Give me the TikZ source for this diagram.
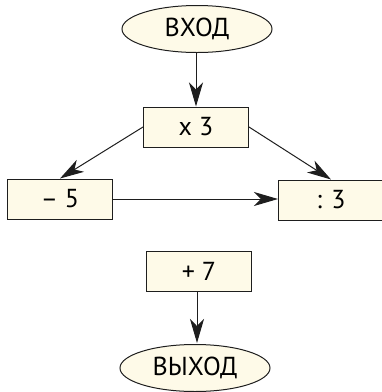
\documentclass[tikz,border=0pt]{standalone}
\usepackage{fontspec}
\setmainfont{PT Sans}
\usetikzlibrary{shapes.geometric,arrows.meta}
\definecolor{cream}{RGB}{254,250,232}
\definecolor{ink}{RGB}{30,30,30}
\begin{document}
\begin{tikzpicture}[x=1pt,y=-1pt,
  box/.style={draw=ink,fill=cream,line width=1pt,minimum width=105pt,minimum height=40pt,inner sep=0pt,font=\fontsize{26}{30}\selectfont},
  oval/.style={ellipse,draw=ink,fill=cream,line width=1pt,minimum width=150pt,minimum height=47pt,inner sep=0pt,font=\fontsize{26}{30}\selectfont},
  arr/.style={draw=ink,line width=1pt,-{Stealth[length=24pt,width=14pt,inset=7pt]}}]
\useasboundingbox (0,0) rectangle (382,392);
\node[oval] (in) at (197,29) {ВХОД};
\node[box] (x3) at (196,127) {x 3};
\node[box] (m5) at (60,199) {– 5};
\node[box] (d3) at (331,200) {: 3};
\node[box] (p7) at (199,271) {+ 7};
\node[oval] (out) at (195,368) {ВЫХОД};
\draw[arr] (in.south -| x3.north) -- (x3.north);
\draw[arr] (x3.west) -- (m5.north);
\draw[arr] (x3.east) -- (d3.north);
\draw[arr] (m5.east) -- (m5.east -| d3.west);
\draw[arr] (p7.south -| 197,0) -- (197,343);
\end{tikzpicture}
\end{document}
